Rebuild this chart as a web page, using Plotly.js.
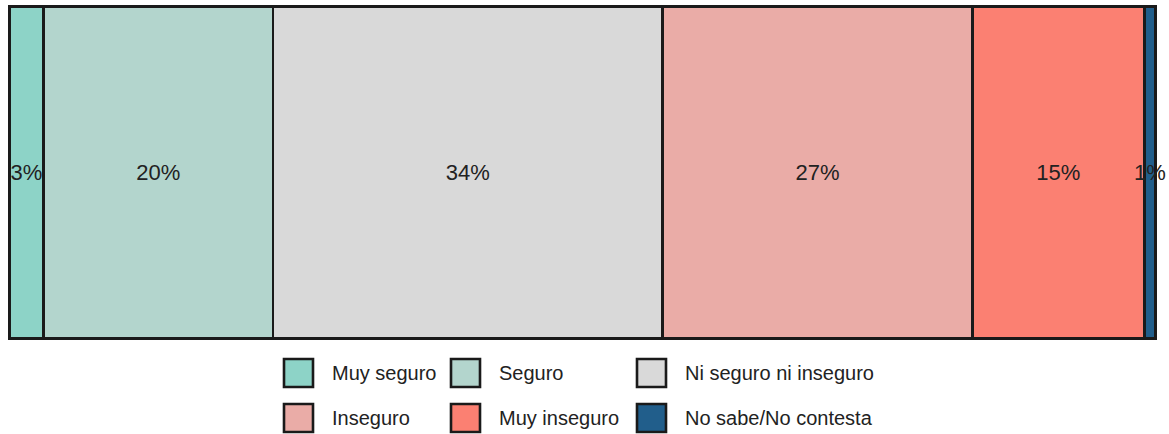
<!DOCTYPE html>
<html>
<head>
<meta charset="utf-8">
<script src="https://cdn.plot.ly/plotly-3.0.1.min.js"></script>
<style>html,body{margin:0;padding:0;background:#fff;}#chart{width:1169px;height:434px;}</style>
</head>
<body>
<div id="chart"></div>
<script>
var categories = ["Muy seguro", "Seguro", "Ni seguro ni inseguro", "Inseguro", "Muy inseguro", "No sabe/No contesta"];
var values = [3, 20, 34, 27, 15, 1];
var labels = ["3%", "20%", "34%", "27%", "15%", "1%"];
var colors = ["#8dd3c7", "#b3d5cd", "#d9d9d9", "#eaaca7", "#fb8072", "#215e8b"];

var W = 1169, H = 434;
var M = {l: 7, r: 11, t: 4, b: 93};
var pw = W - M.l - M.r, ph = H - M.t - M.b;
function px2x(px) { return (px - M.l) / pw; }
function py2y(py) { return (H - M.b - py) / ph; }

var traces = categories.map(function (c, i) {
  return {
    type: "bar",
    orientation: "h",
    name: c,
    y: ["all"],
    x: [values[i]],
    text: [labels[i]],
    textposition: "inside",
    insidetextanchor: "middle",
    textangle: 0,
    constraintext: "none",
    cliponaxis: false,
    insidetextfont: {family: "Liberation Sans, Arial, sans-serif", size: 22, color: "#222"},
    marker: {color: colors[i], line: {color: "#1a1a1a", width: 2.6}},
    hoverinfo: "none",
    showlegend: false
  };
});

// manual legend (2 rows x 3 columns)
var colBox = [284, 451, 637];
var colText = [330, 497, 683];
var rowY = [373, 418];
var box = 28;
var shapes = [], annotations = [];
categories.forEach(function (c, i) {
  var r = Math.floor(i / 3), k = i % 3;
  var cx = colBox[k], cy = rowY[r];
  shapes.push({
    type: "rect", xref: "paper", yref: "paper",
    x0: px2x(cx), x1: px2x(cx + box + 1),
    y0: py2y(cy - box / 2), y1: py2y(cy + box / 2),
    fillcolor: colors[i], line: {color: "#1a1a1a", width: 2.6}
  });
  annotations.push({
    xref: "paper", yref: "paper", x: px2x(colText[k]), y: py2y(cy),
    xanchor: "left", yanchor: "middle", showarrow: false, text: c,
    font: {family: "Liberation Sans, Arial, sans-serif", size: 20, color: "#222"}
  });
});

var layout = {
  width: W, height: H,
  margin: M,
  barmode: "stack",
  bargap: 0,
  paper_bgcolor: "#fff",
  plot_bgcolor: "#fff",
  showlegend: false,
  xaxis: {range: [-0.2, 100.2], visible: false, fixedrange: true},
  yaxis: {range: [-0.507, 0.507], visible: false, fixedrange: true},
  shapes: shapes,
  annotations: annotations
};

Plotly.newPlot("chart", traces, layout, {displayModeBar: false, staticPlot: true});
</script>
</body>
</html>
